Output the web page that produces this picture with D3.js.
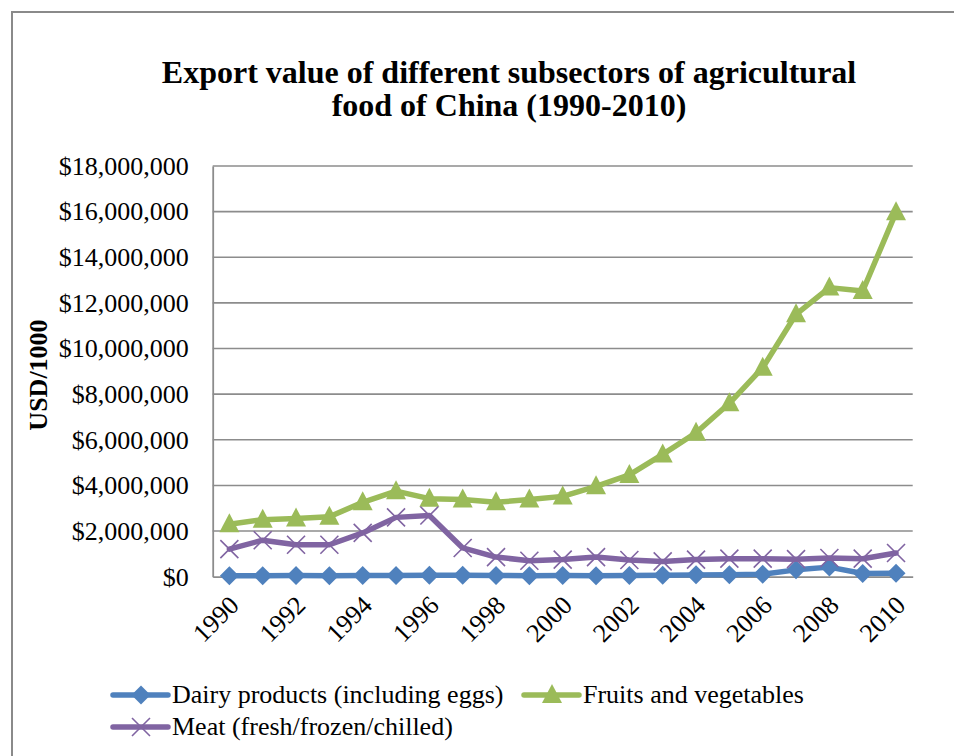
<!DOCTYPE html>
<html>
<head>
<meta charset="utf-8">
<script src="https://cdn.jsdelivr.net/npm/d3@7"></script>
<style>
  html, body { margin: 0; padding: 0; background: #fff; }
  svg { display: block; }
  text { font-family: "Liberation Serif", "Times New Roman", serif; fill: #000; }
</style>
</head>
<body>
<svg id="chart" width="954" height="756"></svg>
<script>
// Export value by subsector, USD/1000
const years = d3.range(1990, 2011).map(String);
const dairy = [40000, 45000, 50000, 45000, 50000, 55000, 60000, 60000, 50000, 45000, 50000, 45000, 55000, 60000, 80000, 90000, 110000, 300000, 420000, 140000, 150000];
const fruits = [2300000, 2500000, 2550000, 2630000, 3260000, 3750000, 3420000, 3380000, 3260000, 3380000, 3520000, 3960000, 4460000, 5360000, 6310000, 7600000, 9160000, 11500000, 12670000, 12520000, 15970000];
const meat = [1210000, 1600000, 1400000, 1400000, 1920000, 2600000, 2680000, 1260000, 860000, 700000, 750000, 860000, 730000, 670000, 750000, 790000, 790000, 770000, 820000, 790000, 1040000];
const yTicks = d3.range(0, 18000001, 2000000);
const xTickYears = years.filter((d, i) => i % 2 === 0);

const series = [
  { name: "Dairy products (including eggs)", values: dairy, color: "#4F81BD", marker: "diamond" },
  { name: "Fruits and vegetables", values: fruits, color: "#9BBB59", marker: "triangle" },
  { name: "Meat (fresh/frozen/chilled)", values: meat, color: "#8064A2", marker: "cross" }
];

const svg = d3.select("#chart");
const plot = { left: 212.7, right: 912.7, top: 166, bottom: 576.7 };

// outer chart frame
svg.append("rect")
  .attr("x", 12).attr("y", 12).attr("width", 970).attr("height", 780)
  .attr("fill", "none").attr("stroke", "#8a8a8a").attr("stroke-width", 2);

// title
const title = svg.append("text")
  .attr("text-anchor", "middle")
  .style("font-size", "32px").style("font-weight", "bold");
title.append("tspan").attr("x", 509).attr("y", 83).text("Export value of different subsectors of agricultural");
title.append("tspan").attr("x", 509).attr("y", 116).text("food of China (1990-2010)");

const x = d3.scaleBand().domain(years).range([plot.left, plot.right]);
const cx = d => x(d) + x.bandwidth() / 2;
const y = d3.scaleLinear().domain([0, 18000000]).range([plot.bottom, plot.top]);

// horizontal gridlines
svg.append("g")
  .selectAll("line")
  .data(yTicks.filter(d => d > 0))
  .join("line")
  .attr("x1", plot.left).attr("x2", plot.right)
  .attr("y1", d => y(d)).attr("y2", d => y(d))
  .attr("stroke", "#8c8c8c").attr("stroke-width", 1.6);

// y axis
const fmt = d3.format(",");
const yAxis = svg.append("g")
  .attr("transform", `translate(${plot.left},0)`)
  .call(d3.axisLeft(y).tickValues(yTicks).tickSize(0).tickPadding(24).tickFormat(d => "$" + fmt(d)));
yAxis.select(".domain").attr("stroke", "#8c8c8c").attr("stroke-width", 1.8);
yAxis.selectAll("text").style("font-size", "26px").style("font-family", "Liberation Serif, serif");

// x axis
const xAxis = svg.append("g")
  .attr("transform", `translate(0,${plot.bottom})`)
  .call(d3.axisBottom(x).tickValues(xTickYears).tickSize(0).tickFormat(""));
xAxis.select(".domain").attr("stroke", "#8c8c8c").attr("stroke-width", 1.8);
xAxis.selectAll(".tick").append("text")
  .attr("text-anchor", "end")
  .attr("transform", "translate(11,30) rotate(-45)")
  .style("font-size", "26px").style("font-family", "Liberation Serif, serif")
  .attr("fill", "#000")
  .text(d => d);

// y axis title
svg.append("text")
  .attr("transform", "translate(47,375) rotate(-90)")
  .attr("text-anchor", "middle")
  .style("font-size", "26px").style("font-weight", "bold")
  .text("USD/1000");

// markers
function drawMarker(g, type, color, px, py) {
  if (type === "diamond") {
    g.append("path")
      .attr("d", `M${px},${py - 9.5}L${px + 9.5},${py}L${px},${py + 9.5}L${px - 9.5},${py}Z`)
      .attr("fill", color);
  } else if (type === "triangle") {
    g.append("path")
      .attr("d", `M${px},${py - 11}L${px + 10},${py + 8}L${px - 10},${py + 8}Z`)
      .attr("fill", color);
  } else {
    g.append("path")
      .attr("d", `M${px - 9},${py - 9}L${px + 9},${py + 9}M${px - 9},${py + 9}L${px + 9},${py - 9}`)
      .attr("stroke", color).attr("stroke-width", 1.6).attr("fill", "none");
  }
}

const line = d3.line().x((d, i) => cx(years[i])).y(d => y(d));

series.forEach(s => {
  const g = svg.append("g");
  g.append("path")
    .datum(s.values)
    .attr("d", line)
    .attr("fill", "none")
    .attr("stroke", s.color)
    .attr("stroke-width", 5.5)
    .attr("stroke-linejoin", "round")
    .attr("stroke-linecap", "round");
  s.values.forEach((v, i) => drawMarker(g, s.marker, s.color, cx(years[i]), y(v)));
});

// legend
const legendItems = [
  { s: series[0], lx: 113, ly: 695 },
  { s: series[1], lx: 524, ly: 695 },
  { s: series[2], lx: 113, ly: 727 }
];
legendItems.forEach(({ s, lx, ly }) => {
  const g = svg.append("g");
  g.append("line")
    .attr("x1", lx).attr("x2", lx + 55).attr("y1", ly).attr("y2", ly)
    .attr("stroke", s.color).attr("stroke-width", 5.5).attr("stroke-linecap", "round");
  drawMarker(g, s.marker, s.color, lx + 28, ly);
  g.append("text")
    .attr("x", lx + 59).attr("y", ly + 8)
    .style("font-size", "26px")
    .text(s.name);
});
</script>
</body>
</html>
